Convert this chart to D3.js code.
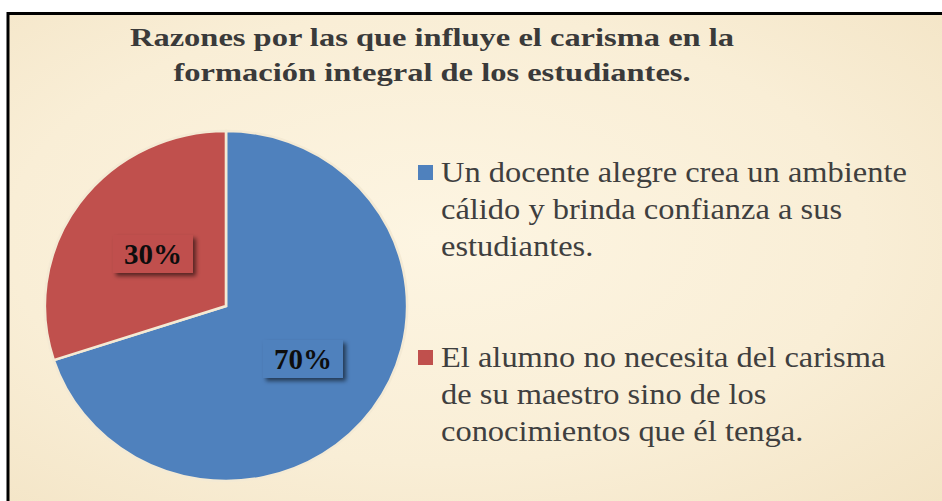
<!DOCTYPE html>
<html><head><meta charset="utf-8">
<script src="https://cdn.jsdelivr.net/npm/d3@7"></script>
</head><body>
<script>
const titleLines = ["Razones por las que influye el carisma en la", "formación integral de los estudiantes."];
const categories = ["Un docente alegre crea un ambiente cálido y brinda confianza a sus estudiantes.",
                    "El alumno no necesita del carisma de su maestro sino de los conocimientos que él tenga."];
const legendLines = [["Un docente alegre crea un ambiente", "cálido y brinda confianza a sus", "estudiantes."],
                     ["El alumno no necesita del carisma", "de su maestro sino de los", "conocimientos que él tenga."]];
const values = [70, 30];
const valueLabels = ["70%", "30%"];
const colors = ["#4f81bd", "#c0504d"];

const FONT = 'Tinos, "Liberation Serif"';
const W = 942, H = 501;
d3.select("body").style("margin", "0px");
const svg = d3.select("body").append("svg").attr("width", W).attr("height", H).style("display", "block");
const defs = svg.append("defs");
const bg = defs.append("radialGradient").attr("id", "bg").attr("cx", "45%").attr("cy", "45%").attr("r", "75%");
bg.append("stop").attr("offset", "0%").attr("stop-color", "#fdf5e2");
bg.append("stop").attr("offset", "60%").attr("stop-color", "#f9eed6");
bg.append("stop").attr("offset", "100%").attr("stop-color", "#f3e4c5");
const sh = defs.append("filter").attr("id", "sh").attr("x", "-30%").attr("y", "-30%").attr("width", "170%").attr("height", "170%");
sh.append("feDropShadow").attr("dx", 3).attr("dy", 3).attr("stdDeviation", 2).attr("flood-color", "#000").attr("flood-opacity", 0.55);

svg.append("rect").attr("x", 8).attr("y", 13.5).attr("width", 950).attr("height", 500)
  .attr("fill", "url(#bg)").attr("stroke", "#000").attr("stroke-width", 3);

// title (reference glyphs are horizontally stretched)
const tg = svg.append("g").attr("transform", "translate(432,0) scale(1.25,1)");
tg.selectAll("text").data(titleLines).join("text")
  .attr("x", 0).attr("y", (d, i) => 46 + i * 35)
  .attr("text-anchor", "middle").attr("font-family", FONT)
  .attr("font-weight", "bold").attr("font-size", 26).attr("fill", "#3a3a3a").text(d => d);

// pie
const cx = 226, cy = 306, r = 175;
const pieData = d3.pie().sort(null).value(d => d)(values);
const arc = d3.arc().innerRadius(0).outerRadius(r);
const pg = svg.append("g").attr("transform", `translate(${cx},${cy}) scale(1.035,1)`);
pg.selectAll("path").data(pieData).join("path")
  .attr("d", arc).attr("fill", (d, i) => colors[i])
  .attr("stroke", "#f4ead4").attr("stroke-width", 2.5);

// value labels
const labelPos = [[303, 359], [153, 254]];
const lg = svg.append("g");
pieData.forEach((d, i) => {
  const [x, y] = labelPos[i];
  const g = lg.append("g").attr("transform", `translate(${x},${y})`);
  g.append("rect").attr("x", -40).attr("y", -19).attr("width", 80).attr("height", 38)
    .attr("fill", colors[i]).attr("filter", "url(#sh)");
  g.append("text").attr("text-anchor", "middle").attr("y", 10)
    .attr("font-family", FONT).attr("font-weight", "bold")
    .attr("font-size", 29).attr("fill", "#0d0d0d").text(valueLabels[i]);
});

// legend
const leg = svg.append("g");
const legBase = [182, 367];
categories.forEach((c, i) => {
  const g = leg.append("g").attr("transform", `translate(418,${legBase[i]})`);
  g.append("rect").attr("x", 0).attr("y", -17).attr("width", 15).attr("height", 15).attr("fill", colors[i]);
  g.append("g").attr("transform", "translate(23,0) scale(1.12,1)")
    .selectAll("text").data(legendLines[i]).join("text")
    .attr("x", 0).attr("y", (d, j) => j * 37)
    .attr("font-family", FONT).attr("font-size", 29)
    .attr("fill", "#3f3f3f").text(d => d);
});
</script>
</body></html>
